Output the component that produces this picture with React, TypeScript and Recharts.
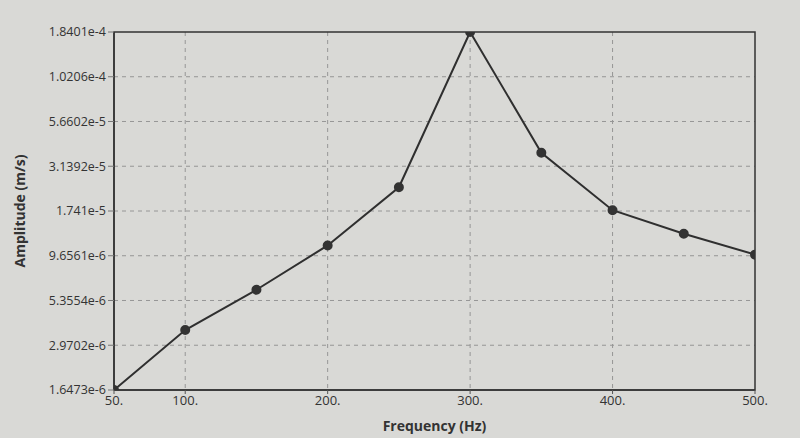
import React from "react";
import { CartesianGrid, Line, LineChart, ReferenceArea, XAxis, YAxis, Label } from "recharts";

const frequencies = [50, 100, 150, 200, 250, 300, 350, 400, 450, 500];
const amplitudes = [1.6473e-6, 3.63e-6, 6.17e-6, 1.106e-5, 2.38e-5, 1.8401e-4, 3.75e-5, 1.76e-5, 1.29e-5, 9.8e-6];
const yTickLabels = ["1.6473e-6", "2.9702e-6", "5.3554e-6", "9.6561e-6", "1.741e-5", "3.1392e-5", "5.6602e-5", "1.0206e-4", "1.8401e-4"];
const xTicks = [50, 100, 200, 300, 400, 500];

const yTicks = yTickLabels.map(Number);
const data = frequencies.map((f, i) => ({ freq: f, amp: amplitudes[i] }));

const font = "'Open Sans', 'Noto Sans', sans-serif";

const App = () => {
  return (
    <div style={{ position: "absolute", left: 0, top: 0, width: 800, height: 438, background: "#d9d9d6", fontFamily: font }}>
      <LineChart width={800} height={438} data={data} margin={{ top: 32, right: 45, left: 10, bottom: 20 }}>
        <CartesianGrid stroke="#969696" strokeDasharray="4 4" verticalValues={[100, 200, 300, 400]} horizontalValues={yTicks.slice(1, -1)} />
        <XAxis
          dataKey="freq"
          type="number"
          domain={[50, 500]}
          ticks={xTicks}
          tickFormatter={(v) => `${v}.`}
          tick={{ fill: "#333", fontSize: 13, fontFamily: font }}
          tickSize={4}
          tickLine={{ stroke: "#555" }}
          axisLine={{ stroke: "#333", strokeWidth: 1.5 }}
          height={28}
          allowDataOverflow
        >
          <Label value="Frequency (Hz)" position="bottom" offset={3} style={{ fill: "#333", fontSize: 14, fontWeight: 700, fontFamily: font }} />
        </XAxis>
        <YAxis
          dataKey="amp"
          scale="log"
          domain={[1.6473e-6, 1.8401e-4]}
          ticks={yTicks}
          tickFormatter={(v) => yTickLabels[yTicks.indexOf(v)] ?? String(v)}
          tick={{ fill: "#333", fontSize: 12.5, fontFamily: font }}
          tickSize={6}
          tickLine={{ stroke: "#777" }}
          axisLine={{ stroke: "#333", strokeWidth: 1.5 }}
          width={104}
          allowDataOverflow
        >
          <Label value="Amplitude (m/s)" angle={-90} position="insideLeft" offset={10} style={{ fill: "#333", fontSize: 14, fontWeight: 700, fontFamily: font, textAnchor: "middle" }} />
        </YAxis>
        <ReferenceArea x1={50} x2={500} y1={1.6473e-6} y2={1.8401e-4} fill="none" stroke="#333" strokeWidth={1.5} ifOverflow="visible" />
        <Line
          type="linear"
          dataKey="amp"
          stroke="#2f2f2f"
          strokeWidth={2}
          dot={{ r: 4, fill: "#333", stroke: "#333" }}
          isAnimationActive={false}
        />
      </LineChart>
    </div>
  );
};

export default App;
